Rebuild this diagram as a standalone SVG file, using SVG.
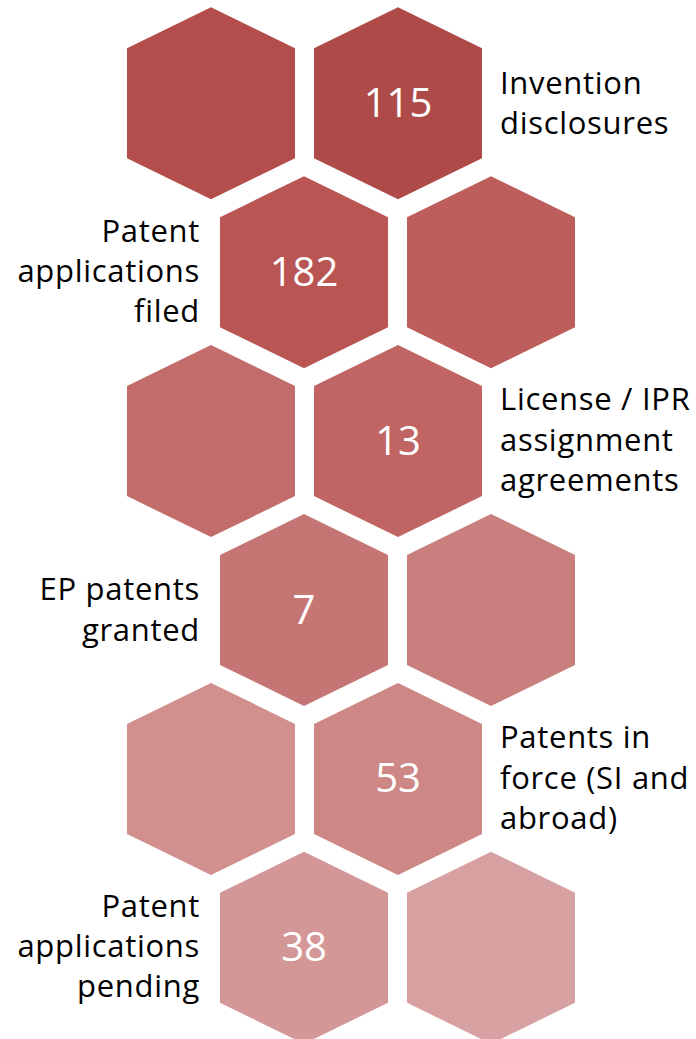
<svg xmlns="http://www.w3.org/2000/svg" xmlns:xlink="http://www.w3.org/1999/xlink" width="696" height="1039" viewBox="0 0 696 1039">
<defs>
<polygon id="hex" points="0,-96 84,-55 84,55 0,96 -84,55 -84,-55"/>
</defs>
<style>
.num{font-family:"Open Sans","Liberation Sans",sans-serif;font-size:40px;fill:#ffffff;text-anchor:middle}
.lbl{font-family:"Open Sans","Liberation Sans",sans-serif;font-size:31px;letter-spacing:0.7px;fill:#000000}
.r{text-anchor:start}
.l{text-anchor:end}
</style>
<rect width="696" height="1039" fill="#ffffff"/>
<g id="row1">
<use xlink:href="#hex" href="#hex" x="211" y="103.3" fill="#B44E4C"/>
<g id="invention-disclosures">
<use xlink:href="#hex" href="#hex" x="398" y="103.3" fill="#AE4A47"/>
<text class="num" x="398" y="116.8">115</text>
<text class="lbl r" x="500"><tspan x="500" y="93.5">Invention</tspan><tspan x="500" y="134">disclosures</tspan></text>
</g>
</g>
<g id="row2">
<g id="patent-applications-filed">
<use xlink:href="#hex" href="#hex" x="304" y="272.2" fill="#B95553"/>
<text class="num" x="304" y="285.7">182</text>
<text class="lbl l" x="200"><tspan x="200" y="241.7">Patent</tspan><tspan x="200" y="281.7">applications</tspan><tspan x="200" y="321.7">filed</tspan></text>
</g>
<use xlink:href="#hex" href="#hex" x="491" y="272.2" fill="#BD5E5C"/>
</g>
<g id="row3">
<use xlink:href="#hex" href="#hex" x="211" y="441.1" fill="#C26D6B"/>
<g id="license-agreements">
<use xlink:href="#hex" href="#hex" x="398" y="441.1" fill="#C06563"/>
<text class="num" x="398" y="454.6">13</text>
<text class="lbl r" x="500"><tspan x="500" y="410">License / IPR</tspan><tspan x="500" y="450.5">assignment</tspan><tspan x="500" y="491">agreements</tspan></text>
</g>
</g>
<g id="row4">
<g id="ep-patents-granted">
<use xlink:href="#hex" href="#hex" x="304" y="610" fill="#C57674"/>
<text class="num" x="304" y="623.5">7</text>
<text class="lbl l" x="200"><tspan x="200" y="600">EP patents</tspan><tspan x="200" y="640.7">granted</tspan></text>
</g>
<use xlink:href="#hex" href="#hex" x="491" y="610" fill="#C97F7D"/>
</g>
<g id="row5">
<use xlink:href="#hex" href="#hex" x="211" y="778.9" fill="#D18F8E"/>
<g id="patents-in-force">
<use xlink:href="#hex" href="#hex" x="398" y="778.9" fill="#CD8785"/>
<text class="num" x="398" y="792.4">53</text>
<text class="lbl r" x="500"><tspan x="500" y="748">Patents in</tspan><tspan x="500" y="788.5">force (SI and</tspan><tspan x="500" y="829">abroad)</tspan></text>
</g>
</g>
<g id="row6">
<g id="patent-applications-pending">
<use xlink:href="#hex" href="#hex" x="304" y="947.8" fill="#D49797"/>
<text class="num" x="304" y="961.3">38</text>
<text class="lbl l" x="200"><tspan x="200" y="917.3">Patent</tspan><tspan x="200" y="957.3">applications</tspan><tspan x="200" y="997.3">pending</tspan></text>
</g>
<use xlink:href="#hex" href="#hex" x="491" y="947.8" fill="#D8A1A1"/>
</g>
<g id="connectors"/>
</svg>
